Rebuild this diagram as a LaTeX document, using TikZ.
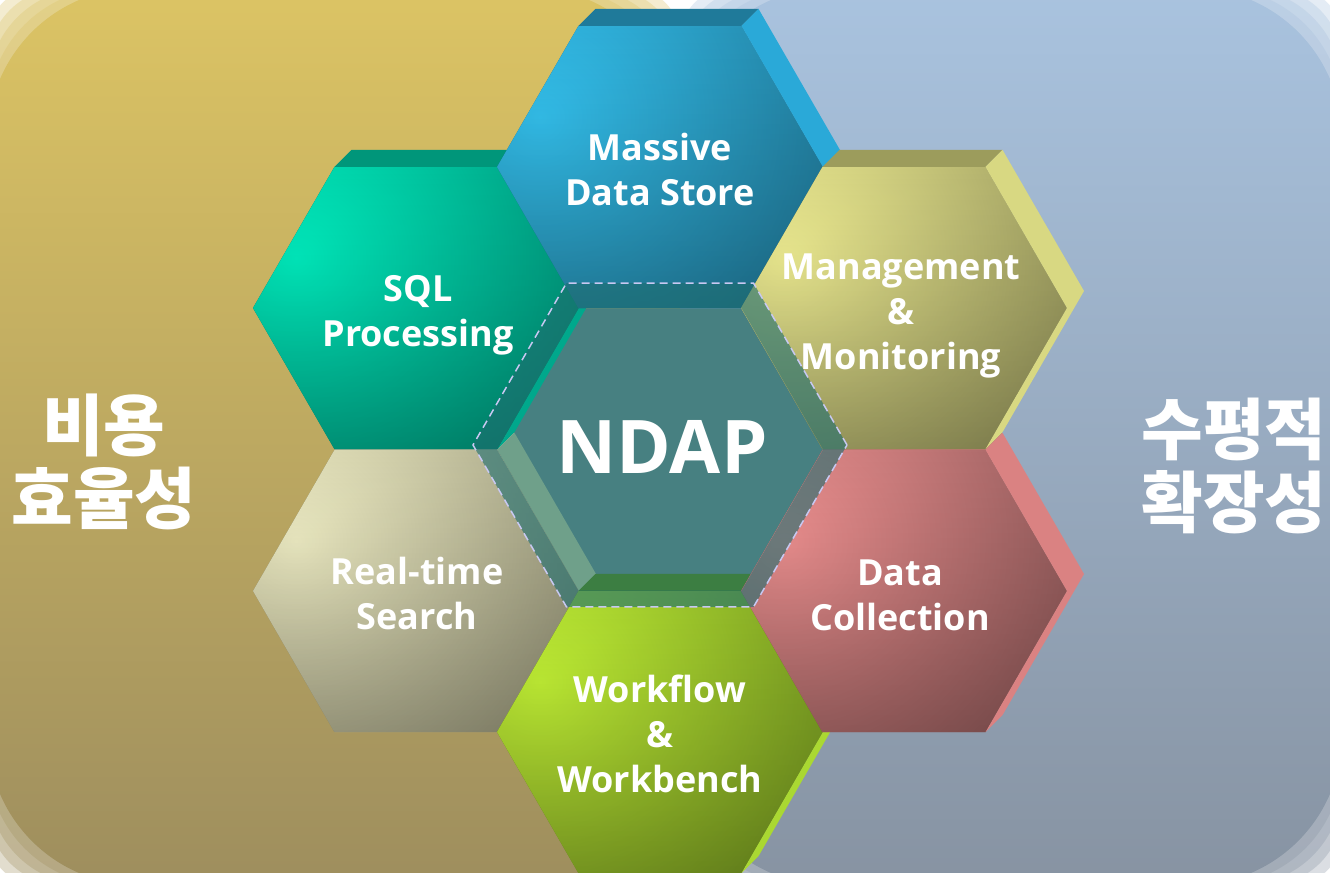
\documentclass[tikz,border=0pt]{standalone}
\usepackage{fontspec}
\setmainfont{Open Sans}
\newfontfamily\krfont{Noto Sans CJK KR}
\usetikzlibrary{shapes.geometric, shadings, fadings}

% panel colours
\definecolor{goldtop}{HTML}{DCC464}
\definecolor{goldbot}{HTML}{9E8E5E}
\definecolor{bluetop}{HTML}{A9C3DF}
\definecolor{bluebot}{HTML}{8793A2}
% hexagon faces, light spot / rim
\definecolor{mdsL}{HTML}{35C6F4}\definecolor{mdsR}{HTML}{1B6480}
\definecolor{sqlL}{HTML}{00F4C4}\definecolor{sqlR}{HTML}{00705E}
\definecolor{mgtL}{HTML}{F6F496}\definecolor{mgtR}{HTML}{78784A}
\definecolor{rtsL}{HTML}{F6F4CA}\definecolor{rtsR}{HTML}{7A7860}
\definecolor{dcoL}{HTML}{F49494}\definecolor{dcoR}{HTML}{6E4646}
\definecolor{wfwL}{HTML}{C6F636}\definecolor{wfwR}{HTML}{5A781A}
% depth bands (top / side)
\definecolor{mdsTop}{HTML}{1F7A9A}\definecolor{mdsSide}{HTML}{2AA9D8}
\definecolor{sqlTop}{HTML}{00967A}\definecolor{sqlSide}{HTML}{00A88C}
\definecolor{mgtTop}{HTML}{9C9C5C}\definecolor{mgtSide}{HTML}{D8D882}
\definecolor{rtsTop}{HTML}{B4B294}\definecolor{rtsSide}{HTML}{6FA08A}
\definecolor{dcoTop}{HTML}{C27272}\definecolor{dcoSide}{HTML}{DA8282}
\definecolor{wfwTop}{HTML}{3C7E42}\definecolor{wfwSide}{HTML}{AAD832}
% centre
\definecolor{ndapface}{HTML}{478081}
\definecolor{ndapring}{HTML}{1E6E70}
\definecolor{ndapdash}{HTML}{C8C8F2}

\tikzfading[name=facedark, top color=transparent!100, middle color=transparent!100,
    bottom color=transparent!78]

% depth of a hexagon: node, top colour, side colour
\newcommand\hexdepth[3]{%
    \fill[#2] (#1.120) -- ([shift={(17,-17)}]#1.120) -- ([shift={(17,-17)}]#1.60) -- (#1.60) -- cycle;
    \fill[#3] (#1.60) -- ([shift={(17,-17)}]#1.60) -- ([shift={(17,-17)}]#1.0)
        -- ([shift={(17,-17)}]#1.300) -- (#1.300) -- (#1.0) -- cycle;
}

\tikzset{
    hexa/.style={regular polygon, regular polygon sides=6, minimum size=163pt,
        inner sep=0pt, outer sep=0pt},
    face/.style 2 args={hexa, fill=#2,
        path picture={
            \shade[inner color=#1, outer color=#2]
                ([shift={(-120,-50)}]path picture bounding box.center) circle [radius=215pt];
            \fill[black, path fading=facedark]
                (path picture bounding box.south west) rectangle (path picture bounding box.north east);
        }},
    hexlabel/.style={text=white, align=center, font=\bfseries\fontsize{18}{22.5}\selectfont},
    sidelabel/.style={text=white, align=center, font=\krfont\bfseries\fontsize{33.5}{36.5}\selectfont}
}

\begin{document}
\begin{tikzpicture}[x=0.5pt, y=-0.5pt]
    \useasboundingbox (0,0) rectangle (1330,873);
    % Background panels with soft corners
    \fill[white] (0,0) rectangle (1330,873);
    \foreach \r/\o in {150/1, 125/0.3, 100/0.3, 75/0.3, 50/0.3}
    {
        \shade[top color=goldtop, bottom color=goldbot, opacity=\o, rounded corners=\r*0.5pt]
            (-12,-12) rectangle (680,885);
        \shade[top color=bluetop, bottom color=bluebot, opacity=\o, rounded corners=\r*0.5pt]
            (680,-12) rectangle (1342,885);
    }

    % Centre slot
    \node[hexa, fill=ndapface] (slot) at (660,449.5) {};
    \node[hexa, minimum size=187pt] (ring) at (660,445) {};

    % Outer hexagons, back to front
    \node[face={rtsL}{rtsR}] (rts) at (416,591) {};
    \hexdepth{rts}{rtsTop}{rtsSide}
    \node[face={wfwL}{wfwR}] (wfw) at (660,732) {};
    \hexdepth{wfw}{wfwTop}{wfwSide}
    \node[face={dcoL}{dcoR}] (dco) at (904,591) {};
    \hexdepth{dco}{dcoTop}{dcoSide}
    \node[face={sqlL}{sqlR}] (sql) at (416,308) {};
    \hexdepth{sql}{sqlTop}{sqlSide}
    \node[face={mdsL}{mdsR}] (mds) at (660,167) {};
    \hexdepth{mds}{mdsTop}{mdsSide}
    \node[face={mgtL}{mgtR}] (mgt) at (904,308) {};
    \hexdepth{mgt}{mgtTop}{mgtSide}

    % Glass ring round the centre
    \fill[ndapring, opacity=0.6, even odd rule]
        (ring.0) foreach \a in {60,120,...,300} { -- (ring.\a) } -- cycle
        (slot.0) foreach \a in {60,120,...,300} { -- (slot.\a) } -- cycle;
    \draw[ndapdash, line width=0.75pt, dash pattern=on 4pt off 2.5pt]
        (ring.0) foreach \a in {60,120,...,300} { -- (ring.\a) } -- cycle;

    % Labels
    \node[hexlabel] (mds-txt) at ([shift={(0,2)}]mds) {Massive\\Data Store};
    \node[hexlabel] (sql-txt) at ([shift={(2,7)}]sql) {SQL\\Processing};
    \node[hexlabel] (mgt-txt) at ([shift={(-3,8)}]mgt) {Management\\\&\\Monitoring};
    \node[hexlabel] (rts-txt) at ([shift={(1,2)}]rts) {Real-time\\Search};
    \node[hexlabel] (dco-txt) at ([shift={(-4,4)}]dco) {Data\\Collection};
    \node[hexlabel] (wfw-txt) at ([shift={(0,2)}]wfw) {Workflow\\\&\\Workbench};
    \node[text=white, font=\bfseries\fontsize{37}{40}\selectfont] (ndap-txt) at (662,447) {NDAP};
    \node[sidelabel] (cost) at (104,462) {비용\\효율성};
    \node[sidelabel] (scale) at (1234,466) {수평적\\확장성};
\end{tikzpicture}
\end{document}
